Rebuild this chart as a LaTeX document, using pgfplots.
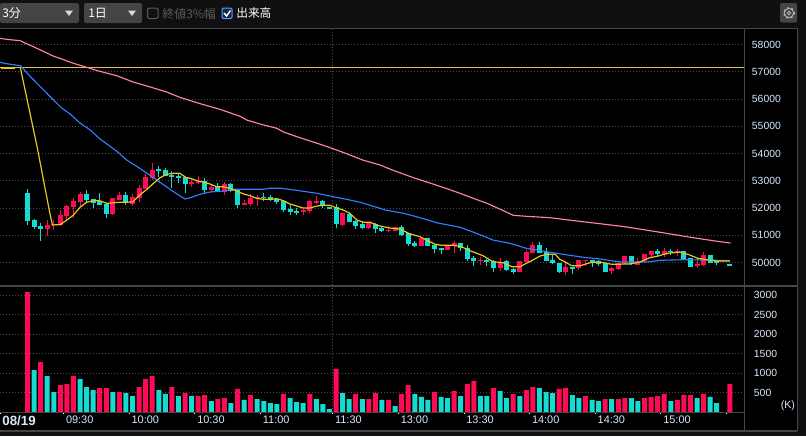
\documentclass[border=0pt]{standalone}
\usepackage{fontspec}
\setmainfont{Liberation Sans}
\newfontfamily\cjk{Noto Sans CJK JP}
\usepackage{pgfplots}
\usepackage{pgfplotstable}
\pgfplotsset{compat=1.18}

\definecolor{bgdark}{HTML}{101010}
\definecolor{panelgray}{HTML}{454545}
\definecolor{btn}{HTML}{444444}
\definecolor{gridc}{HTML}{4C4C4C}
\definecolor{mutedtxt}{HTML}{5A5A5A}
\definecolor{lbl}{HTML}{D6E8FA}
\definecolor{up}{HTML}{FF0A54}
\definecolor{down}{HTML}{14DCD2}
\definecolor{ma1}{HTML}{E6C81E}
\definecolor{ma2}{HTML}{2F80FF}
\definecolor{ma3}{HTML}{FF84AA}
\definecolor{prev}{HTML}{E0BE48}

% candles: bar no, open, close, low, high
\pgfplotstableread{
i o c l h
0 52550 51530 51380 52700
1 51560 51310 51230 51600
2 51340 51230 50790 51450
9 52520 52300 52190 52660
10 52330 52190 52000 52330
11 52260 52110 52110 52550
12 52150 51780 51640 52190
15 52480 52190 52110 52590
20 53440 53360 53140 53550
21 53400 53180 53180 53470
22 53220 53140 52740 53360
23 53180 53110 52920 53250
24 53140 52890 52550 53140
27 53000 52660 52550 53110
29 52810 52630 52630 52920
31 52890 52630 52590 52920
32 52660 52110 52000 52660
36 52410 52370 52260 52550
37 52410 52300 52260 52480
38 52330 52220 52150 52330
39 52260 51930 51860 52260
40 51970 51860 51750 52110
41 51890 51860 51750 52000
45 52260 52080 52000 52300
46 52040 52000 52000 52040
47 52040 51420 51270 52150
49 51780 51490 51490 51860
50 51530 51340 51230 51560
51 51420 51270 51230 51490
53 51420 51230 51090 51450
54 51270 51160 51120 51310
57 51310 51010 50980 51380
58 51090 50680 50610 51090
59 50720 50610 50570 50790
61 50900 50610 50610 50900
62 50650 50500 50350 50650
63 50540 50460 50320 50540
66 50720 50540 50430 50720
67 50540 50130 50060 50650
68 50170 50060 49880 50240
70 50100 50020 49880 50130
71 50060 49800 49660 50100
73 50060 49730 49690 50100
74 49770 49660 49580 49800
78 50650 50350 50350 50760
79 50390 50060 50060 50540
80 50100 49990 49950 50320
81 49990 49660 49620 49990
83 49840 49770 49580 49840
86 50100 50020 49840 50100
87 50060 49950 49880 50100
88 49990 49660 49660 49990
92 50240 49950 49910 50240
96 50430 50320 50240 50500
98 50430 50390 50280 50500
100 50430 50130 50130 50430
101 50170 49840 49840 50170
104 50280 49990 49990 50280
105 50060 49990 49910 50060
107 49950 49910 49910 49950
}\candown
\pgfplotstableread{
i o c l h
3 51230 51380 50980 51560
4 51380 51420 51200 51560
5 51380 51750 51340 51930
6 51710 52080 51560 52110
7 52040 52260 51640 52370
8 52220 52520 52040 52590
13 51780 52370 51750 52370
14 52300 52480 52300 52590
16 52150 52410 52080 52520
17 52370 52740 52220 52850
18 52700 53140 52700 53250
19 53100 53400 53030 53660
25 52890 52960 52780 53100
26 52920 53000 52890 53180
28 52660 52780 52590 52890
30 52590 52890 52480 52960
33 52110 52190 52110 52300
34 52150 52370 52080 52520
35 52370 52410 52080 52480
42 51860 51930 51750 52000
43 51890 52260 51820 52300
44 52220 52260 52150 52440
48 51380 51820 51340 51820
52 51270 51450 51230 51490
55 51160 51200 51120 51340
56 51160 51310 51160 51310
60 50610 50900 50610 50900
64 50460 50610 50460 50610
65 50610 50720 50350 50790
69 50060 50100 49910 50210
72 49800 50020 49690 50170
75 49660 50060 49660 50060
76 50020 50390 50020 50460
77 50350 50650 50350 50760
82 49660 49840 49550 50020
84 49800 50100 49730 50100
85 50060 50100 49880 50100
89 49690 49800 49580 49840
90 49770 49990 49730 49990
91 49950 50240 49950 50240
93 49910 50020 49910 50170
94 50060 50320 50020 50320
95 50280 50430 50170 50430
97 50280 50430 50210 50540
99 50350 50430 50240 50500
102 49910 49950 49800 50170
103 49910 50280 49880 50390
}\canup

\begin{document}
\begin{tikzpicture}
\path[use as bounding box] (0,0) rectangle (604.5pt,-327pt);
\begin{scope}[x=0.75pt,y=-0.75pt]
  \fill[bgdark] (0,0) rectangle (806,436);
  \fill[black] (0,28) rectangle (797,430);
  % toolbar
  \fill[btn,rounded corners=1.5pt] (0,3) rectangle (79,23);
  \fill[btn,rounded corners=1.5pt] (84,3) rectangle (142,23);
  \fill[btn,rounded corners=1.5pt] (780,3) rectangle (797,22.5);
  \fill[white!85!black] (65,10.5) -- (73,10.5) -- (69,16) -- cycle;
  \fill[white!85!black] (128,10.5) -- (136,10.5) -- (132,16) -- cycle;
  \node[anchor=west,inner sep=0,text=white] at (2,13.5) {\cjk\fontsize{9}{9}\selectfont 3分};
  \node[anchor=west,inner sep=0,text=white] at (88,13.5) {\cjk\fontsize{9}{9}\selectfont 1日};
  \draw[mutedtxt,line width=0.75pt,rounded corners=1pt] (147.5,8) rectangle (158,18.5);
  \node[anchor=west,inner sep=0,text=mutedtxt] at (162,13.5) {\cjk\fontsize{9}{9}\selectfont 終値3\%幅};
  \fill[black!70!ma2] (222,8) rectangle (232,18.5);
  \draw[ma2!80!white,line width=0.75pt,rounded corners=1pt] (222,8) rectangle (232,18.5);
  \draw[white,line width=1.1pt] (224,13) -- (226.5,16) -- (230.5,10.5);
  \node[anchor=west,inner sep=0,text=white] at (236,13.5) {\cjk\fontsize{8.8}{9}\selectfont 出来高};
  \draw[white!70!black,line width=0.6pt] (789,13) circle (1.8);
  \draw[white!70!black,line width=0.6pt] (789,13) circle (4.6);
  \draw[white!70!black,line width=1pt,dash pattern=on 1.5pt off 1.9pt] (789,13) circle (5.4);
\end{scope}

% price panel
\begin{axis}[
  at={(0pt,-213.75pt)}, anchor=south west,
  scale only axis, width=558.75pt, height=192pt,
  xmin=-4.19, xmax=109.31, ymin=49178, ymax=58573,
  axis line style={draw=none},
  tick style={draw=none},
  major tick length=0pt,
  xtick={46.5}, xticklabels={},
  ytick={50000,51000,...,58000},
  yticklabel pos=right,
  scaled y ticks=false,
  yticklabel style={anchor=west,inner sep=0pt,xshift=5pt,text=lbl,
    font=\fontsize{7.8}{8}\selectfont,
    /pgf/number format/fixed,/pgf/number format/1000 sep={},
    /pgf/number format/assume math mode=true},
  xmajorgrids, ymajorgrids,
  grid style={gridc,line width=0.75pt,dash pattern=on 0.75pt off 1.5pt},
]
\addplot[prev,line width=0.75pt] coordinates {(-4.19,57170) (109.31,57170)};
\addplot[ma1,line width=1.5pt] coordinates {(-4.1,57140) (-1.9,57140)};
% wicks and bodies
\addplot[draw=none,mark=none,error bars/.cd,y dir=both,y explicit,error mark=none,
  error bar style={draw=down,solid,line width=0.75pt}]
  table[x=i,y expr={(\thisrow{h}+\thisrow{l})/2},y error expr={(\thisrow{h}-\thisrow{l})/2}] {\candown};
\addplot[draw=none,mark=none,error bars/.cd,y dir=both,y explicit,error mark=none,
  error bar style={draw=down,solid,line width=3.75pt}]
  table[x=i,y expr={(\thisrow{o}+\thisrow{c})/2},y error expr={(\thisrow{o}-\thisrow{c})/2}] {\candown};
\addplot[draw=none,mark=none,error bars/.cd,y dir=both,y explicit,error mark=none,
  error bar style={draw=up,solid,line width=0.75pt}]
  table[x=i,y expr={(\thisrow{h}+\thisrow{l})/2},y error expr={(\thisrow{h}-\thisrow{l})/2}] {\canup};
\addplot[draw=none,mark=none,error bars/.cd,y dir=both,y explicit,error mark=none,
  error bar style={draw=up,solid,line width=3.75pt}]
  table[x=i,y expr={(\thisrow{o}+\thisrow{c})/2},y error expr={(\thisrow{c}-\thisrow{o})/2}] {\canup};
% moving averages
\addplot[ma3,line width=0.85pt] coordinates {
(-4.2,58232)(-3.2,58195)(-1.1,58144)(-0.4,58059)(0.9,57924)(2.4,57755)(3.9,57582)(5.5,57446)
(7.0,57314)(8.5,57204)(11.0,57021)(13.6,56859)(16.1,56628)(18.7,56445)(21.2,56261)(23.2,56067)
(26.3,55832)(29.3,55626)(32.4,55369)(33.4,55233)(35.4,55087)(38.0,54929)(39.0,54793)(41.5,54584)
(44.6,54342)(47.1,54132)(48.6,53997)(51.2,53754)(53.7,53582)(55.7,53387)(58.8,53116)(61.3,52921)
(63.9,52712)(65.9,52543)(67.9,52360)(70.0,52176)(72.5,51905)(74.0,51736)(76.0,51699)(79.6,51648)
(83.7,51527)(87.2,51428)(91.3,51307)(96.4,51112)(101.4,50914)(105.5,50767)(107.1,50719)};
\addplot[ma2,line width=0.85pt] coordinates {
(-4.2,57351)(-3.2,57300)(-1.1,57226)(0.4,56837)(1.4,56591)(3.4,56103)(5.2,55674)(6.5,55454)
(8.0,55123)(9.5,54877)(11.0,54547)(13.8,54048)(15.1,53765)(17.1,53461)(19.7,53031)(22.0,52639)
(24.0,52334)(24.8,52382)(26.3,52507)(27.8,52591)(29.8,52628)(31.4,52690)(35.9,52690)(36.9,52727)
(38.7,52727)(41.0,52653)(44.1,52543)(46.1,52444)(48.6,52323)(50.7,52213)(53.7,51993)(54.5,51930)
(57.3,51809)(59.8,51648)(62.3,51464)(65.9,51296)(68.4,51075)(70.9,50829)(73.5,50708)(76.0,50525)
(79.1,50400)(81.6,50305)(84.7,50195)(87.2,50132)(90.3,50022)(94.3,50022)(96.4,50084)(99.9,50106)
(103.5,50095)(107.0,50070)};
\addplot[ma1,line width=0.9pt] coordinates {
(-1.1,57168)(1.5,54206)(3.4,51820)(3.8,51380)(5.0,51398)(6.0,51563)(7.0,51747)(8.0,52030)
(9.0,52213)(10.0,52272)(11.0,52272)(12.1,52176)(13.1,52198)(14.1,52213)(15.1,52213)(16.1,52235)
(17.1,52481)(18.2,52690)(19.2,52910)(20.2,53116)(21.2,53241)(22.2,53277)(23.2,53277)(24.2,53116)
(24.8,53094)(25.8,53006)(26.8,52958)(27.8,52885)(28.8,52786)(29.8,52786)(30.8,52727)(31.9,52628)
(32.9,52518)(33.9,52455)(34.9,52360)(35.9,52323)(36.9,52323)(38.0,52345)(39.0,52272)(40.0,52151)
(41.0,52077)(42.0,52004)(43.0,52004)(44.1,52077)(45.1,52103)(46.1,52103)(47.1,52004)(48.1,51930)
(49.1,51809)(50.2,51563)(51.2,51479)(52.2,51479)(53.2,51380)(53.7,51343)(55.2,51270)(56.7,51233)
(58.3,51050)(59.8,50951)(60.8,50829)(62.1,50672)(63.1,50635)(64.9,50635)(66.1,50584)(67.4,50437)
(69.4,50253)(70.9,50033)(72.5,49996)(73.8,49850)(75.0,49850)(76.5,50033)(78.1,50242)(79.1,50305)
(80.4,50305)(81.1,50121)(82.1,49996)(82.9,49886)(84.2,49886)(85.7,49996)(87.2,50022)(89.0,49938)
(91.8,49949)(93.3,50022)(94.8,50180)(96.1,50242)(97.4,50341)(99.4,50389)(100.9,50279)(102.1,50158)
(103.9,50095)(105.0,50059)(107.0,50059)};
\end{axis}

% volume panel
\begin{axis}[
  at={(0pt,-309pt)}, anchor=south west,
  scale only axis, width=558.75pt, height=93.75pt,
  xmin=-4.19, xmax=109.31, ymin=0, ymax=3205,
  ybar, bar width=3.75pt, bar shift=0pt,
  axis line style={draw=none},
  ytick={500,1000,...,3000},
  yticklabel pos=right,
  scaled y ticks=false,
  yticklabel style={anchor=west,inner sep=0pt,xshift=5pt,text=lbl,
    font=\fontsize{7.8}{8}\selectfont,
    /pgf/number format/fixed,/pgf/number format/1000 sep={},
    /pgf/number format/assume math mode=true},
  ytick style={draw=none},
  ymajorgrids,
  grid style={gridc,line width=0.75pt,dash pattern=on 0.75pt off 1.5pt},
  tick align=outside,
  xtick pos=bottom,
  xtick style={draw=white,line width=0.75pt},
  major tick length=1.5pt,
  xtick={-4.19,5.5,15.5,25.5,35.5,56.5,66.5,76.5,86.5,96.5,106.5},
  xticklabels={{\bfseries\fontsize{10}{10}\selectfont 08/19},09:30,10:00,10:30,11:00,13:00,13:30,14:00,14:30,15:00,{}},
  extra x ticks={46.5},
  extra x tick labels={11:30},
  extra x tick style={grid=major},
  xticklabel style={anchor=north west,inner sep=0pt,xshift=1.6pt,yshift=-1.5pt,text=lbl,
    font=\fontsize{8.2}{9}\selectfont},
]
\addplot[fill=up,draw=none] coordinates {
(0,3077)(2,1282)(5,692)(6,718)(7,923)(11,615)(12,615)(14,513)(17,641)(18,846)(19,923)(22,641)
(24,487)(26,410)(27,436)(29,333)(30,359)(32,590)(34,436)(39,462)(43,462)(47,1103)(50,462)(52,333)
(53,487)(55,308)(57,462)(58,692)(62,513)(65,538)(67,718)(68,795)(71,615)(74,462)(76,564)(77,641)
(81,590)(82,615)(85,410)(88,333)(90,333)(91,359)(94,359)(95,385)(96,410)(97,462)(99,308)(100,436)
(101,436)(103,462)(107,718)};
\addplot[fill=down,draw=none] coordinates {
(1,1077)(3,923)(4,513)(8,846)(9,641)(10,564)(13,513)(15,487)(16,410)(20,564)(21,462)(23,410)
(25,410)(28,282)(31,231)(33,308)(35,333)(36,282)(37,231)(38,205)(40,359)(41,256)(42,231)(44,333)
(45,205)(46,77)(48,487)(49,333)(51,333)(54,308)(56,154)(59,462)(60,385)(61,308)(63,385)(64,359)
(66,410)(69,410)(70,410)(72,538)(73,359)(75,410)(78,615)(79,513)(80,487)(83,436)(84,359)(86,308)
(87,282)(89,333)(92,359)(93,282)(98,282)(102,359)(104,385)(105,231)};
\end{axis}

\begin{scope}[x=0.75pt,y=-0.75pt]
  \draw[panelgray,line width=0.75pt] (0,28) -- (797,28);
  \draw[panelgray,line width=0.75pt] (744.5,28) -- (744.5,431);
  \draw[panelgray,line width=0.75pt] (797,28) -- (797,431);
  \draw[panelgray,line width=1.5pt] (0,286) -- (797,286);
  \draw[panelgray,line width=0.75pt] (0,412) -- (744.5,412);
  \draw[panelgray,line width=1.5pt] (0,431) -- (797,431);
  \node[anchor=west,inner sep=0,text=lbl] at (780.5,406) {\fontsize{8}{9}\selectfont (K)};
\end{scope}
\end{tikzpicture}
\end{document}
